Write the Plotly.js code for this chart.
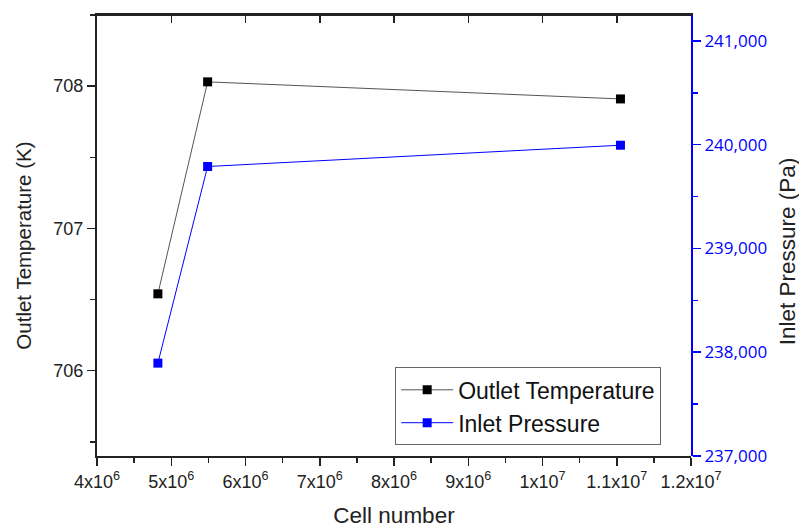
<!DOCTYPE html>
<html><head><meta charset="utf-8">
<script src="https://cdn.plot.ly/plotly-3.0.1.min.js"></script>
<style>html,body{margin:0;padding:0;background:#fff;}#chart{width:799px;height:528px;}</style>
</head><body><div id="chart"></div>
<script>
const cellNumber = [4.82e6, 5.49e6, 1.105e7];
const outletTemperature = [706.54, 708.03, 707.91];
const inletPressure = [237895, 239790, 239995];
const xTickVals = [4e6, 5e6, 6e6, 7e6, 8e6, 9e6, 1e7, 1.1e7, 1.2e7];
const xTickText = ['4x10<sup>6</sup>','5x10<sup>6</sup>','6x10<sup>6</sup>','7x10<sup>6</sup>','8x10<sup>6</sup>','9x10<sup>6</sup>','1x10<sup>7</sup>','1.1x10<sup>7</sup>','1.2x10<sup>7</sup>'];
const xMinorVals = [4.5e6,5.5e6,6.5e6,7.5e6,8.5e6,9.5e6,1.05e7,1.15e7];
const y1TickVals = [706, 707, 708];
const y1MinorVals = [705.5, 706.5, 707.5, 708.5];
const y2TickVals = [237000, 238000, 239000, 240000, 241000];
const y2TickText = ['237,000','238,000','239,000','240,000','241,000'];
const y2MinorVals = [237500, 238500, 239500, 240500];

const font = 'Liberation Sans, Arial, sans-serif';
const traces = [
  {x: cellNumber, y: outletTemperature, name: 'Outlet Temperature', type: 'scatter', mode: 'lines+markers',
   line: {color: '#555555', width: 1}, marker: {symbol: 'square', size: 9, color: '#000000'}, xaxis: 'x', yaxis: 'y'},
  {x: cellNumber, y: inletPressure, name: 'Inlet Pressure', type: 'scatter', mode: 'lines+markers',
   line: {color: '#0000ff', width: 1}, marker: {symbol: 'square', size: 9, color: '#0000ff'}, xaxis: 'x2', yaxis: 'y2'}
];
const layout = {
  width: 799, height: 528,
  margin: {l: 97, r: 108, t: 15, b: 72},
  paper_bgcolor: '#fff', plot_bgcolor: 'rgba(0,0,0,0)',
  font: {family: font, size: 18, color: '#222'},
  showlegend: true,
  legend: {x: 0.502, y: 0.201, xanchor: 'left', yanchor: 'top', bordercolor: '#666', borderwidth: 1,
           font: {family: font, size: 23, color: '#111'}, bgcolor: '#fff', tracegroupgap: 0, itemwidth: 52},
  xaxis: {domain: [0, 1], anchor: 'y', range: [4e6, 1.2e7], tickmode: 'array', tickvals: xTickVals, ticktext: xTickText,
          showgrid: false, zeroline: false, showline: true, mirror: true, linecolor: '#222', linewidth: 2,
          ticks: 'outside', ticklen: 8, tickwidth: 1.5, tickcolor: '#222',
          minor: {tickvals: xMinorVals, ticks: 'outside', ticklen: 5, tickwidth: 1.5, tickcolor: '#222'},
          tickfont: {family: font, size: 18, color: '#222'},
          title: {text: 'Cell number', font: {family: font, size: 22.5, color: '#222'}, standoff: 20}},
  xaxis2: {domain: [0, 1], anchor: 'y2', side: 'top', range: [4e6, 1.2e7], tickmode: 'array', tickvals: xTickVals,
           ticktext: xTickText, showticklabels: false, showgrid: false, zeroline: false, showline: true,
           linecolor: '#222', linewidth: 2, ticks: 'inside', ticklen: 8, tickwidth: 1.5, tickcolor: '#222'},
  yaxis: {domain: [0, 1], anchor: 'x', range: [705.4, 708.5], tickmode: 'array', tickvals: y1TickVals,
          showgrid: false, zeroline: false, showline: true, linecolor: '#222', linewidth: 2,
          ticks: 'outside', ticklen: 8, tickwidth: 1.5, tickcolor: '#222',
          minor: {tickvals: y1MinorVals, ticks: 'outside', ticklen: 5, tickwidth: 1.5, tickcolor: '#222'},
          tickfont: {family: font, size: 18, color: '#222'}},
  yaxis2: {domain: [0, 1], anchor: 'x2', side: 'right', range: [237000, 241250], tickmode: 'array',
           tickvals: y2TickVals, ticktext: y2TickText,
           showgrid: false, zeroline: false, showline: true, linecolor: '#0000ff', linewidth: 2,
           ticks: 'outside', ticklen: 8, tickwidth: 1.5, tickcolor: '#0000ff',
           minor: {tickvals: y2MinorVals, ticks: 'outside', ticklen: 5, tickwidth: 1.5, tickcolor: '#0000ff'},
           tickfont: {family: 'Open Sans, sans-serif', size: 17, color: '#0000ff'}},
  shapes: [
    {type: 'line', xref: 'paper', yref: 'paper', x0: 0, x1: 1, y0: 1, y1: 1, line: {color: '#222', width: 2}, layer: 'above'}
  ],
  annotations: [
    {text: 'Outlet Temperature (K)', textangle: -90, xref: 'paper', yref: 'paper', x: -0.1229, y: 0.477,
     xanchor: 'center', yanchor: 'middle', showarrow: false, font: {family: font, size: 20.5, color: '#222'}},
    {text: 'Inlet Pressure (Pa)', textangle: -90, xref: 'paper', yref: 'paper', x: 1.163, y: 0.464,
     xanchor: 'center', yanchor: 'middle', showarrow: false, font: {family: font, size: 22.5, color: '#222'}}
  ]
};
Plotly.newPlot('chart', traces, layout, {displayModeBar: false, staticPlot: true});
</script></body></html>
